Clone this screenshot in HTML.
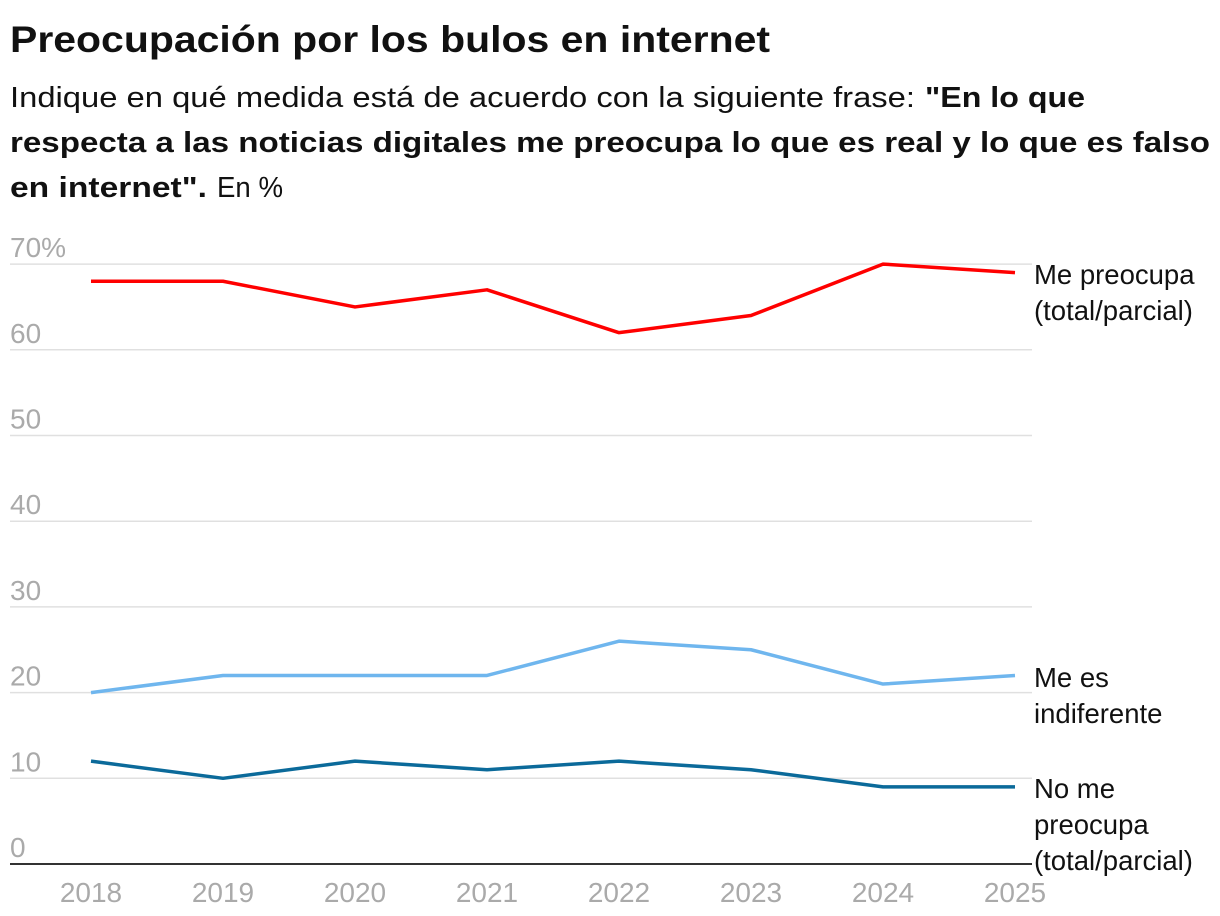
<!DOCTYPE html>
<html><head><meta charset="utf-8"><style>
body{margin:0;background:#fff;width:1220px;height:916px;overflow:hidden;font-family:"Liberation Sans",sans-serif;color:#111}
svg{position:absolute;left:0;top:0}
</style></head><body>
<svg id="c" width="1220" height="916" font-family="Liberation Sans">
<text x="10" y="52" font-size="37" font-weight="bold" textLength="760" lengthAdjust="spacingAndGlyphs" fill="#111">Preocupación por los bulos en internet</text>
<g font-size="29" fill="#111">
<text x="10" y="107" textLength="905" lengthAdjust="spacingAndGlyphs">Indique en qué medida está de acuerdo con la siguiente frase:</text>
<text x="925" y="107" font-weight="bold" textLength="160" lengthAdjust="spacingAndGlyphs">"En lo que</text>
<text x="10" y="152" font-weight="bold" textLength="1200" lengthAdjust="spacingAndGlyphs">respecta a las noticias digitales me preocupa lo que es real y lo que es falso</text>
<text x="10" y="197" font-weight="bold" textLength="197" lengthAdjust="spacingAndGlyphs">en internet".</text>
<text x="217" y="197" textLength="66" lengthAdjust="spacingAndGlyphs">En %</text>
</g>
</svg>
<script>
const years=["2018","2019","2020","2021","2022","2023","2024","2025"];
const preocupa=[68,68,65,67,62,64,70,69];
const indiferente=[20,22,22,22,26,25,21,22];
const noPreocupa=[12,10,12,11,12,11,9,9];
const yTicks=[0,10,20,30,40,50,60,70];
const yTickLabels=["0","10","20","30","40","50","60","70%"];
const ns="http://www.w3.org/2000/svg",svg=document.getElementById('c');
const x=i=>91+i*132, y=v=>864-v*8.57;
function el(t,a,p){const e=document.createElementNS(ns,t);for(const k in a)e.setAttribute(k,a[k]);(p||svg).appendChild(e);return e;}
yTicks.forEach((v,i)=>{
 if(v>0){const l=el('line',{x1:10,x2:1032,y1:y(v),y2:y(v),stroke:'#e0e0e0','stroke-width':1.5});
 
 }
 const t=el('text',{x:10,y:y(v)-7,fill:'#aaa','font-size':28,'font-family':'Liberation Sans'});t.textContent=yTickLabels[i];
 
 
});
const ax=el('line',{x1:10,x2:1032,y1:864,y2:864,stroke:'#333','stroke-width':2});


years.forEach((yr,i)=>{const t=el('text',{x:x(i),y:902,fill:'#aaa','font-size':28,'text-anchor':'middle','font-family':'Liberation Sans'});t.textContent=yr;
 
 });
const series=[[preocupa,'#ff0000','line-me-preocupa',["Me preocupa","(total/parcial)"],284],
[indiferente,'#6fb6ee','line-me-es-indiferente',["Me es","indiferente"],687],
[noPreocupa,'#0b6a9a','line-no-me-preocupa',["No me","preocupa","(total/parcial)"],798]];
series.forEach(([d,c,n,lab,ly])=>{
 const p=el('polyline',{points:d.map((v,i)=>x(i)+','+y(v)).join(' '),fill:'none',stroke:c,'stroke-width':3.5,'stroke-linejoin':'round'});
 
 
 lab.forEach((s,j)=>{const t=el('text',{x:1034,y:ly+j*36,fill:'#111','font-size':27.5,'font-family':'Liberation Sans'});t.textContent=s;
 
 });
});
</script>
</body></html>
